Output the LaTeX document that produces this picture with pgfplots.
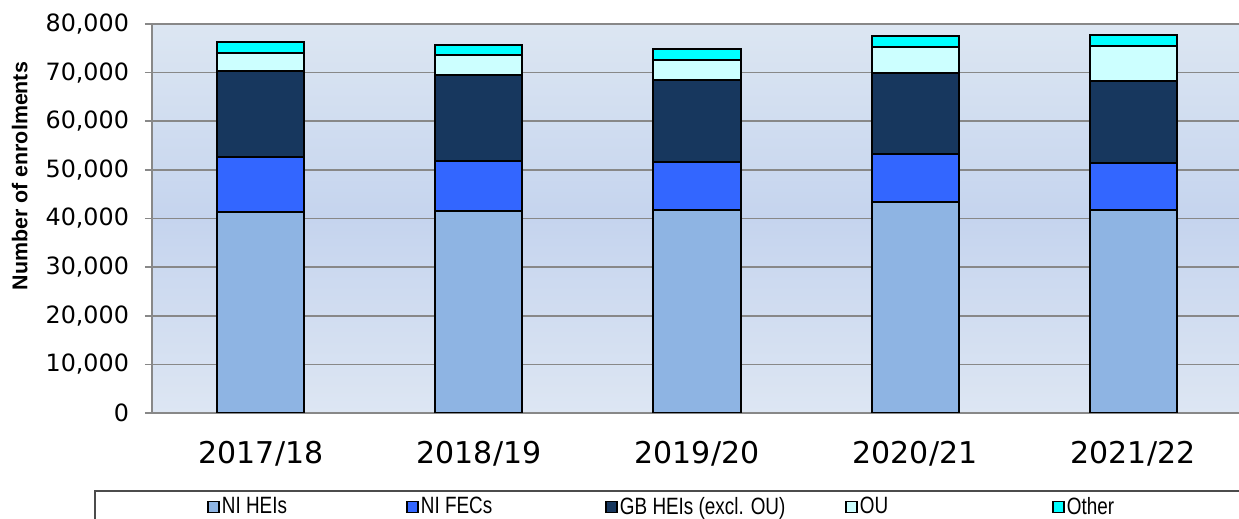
\documentclass[border=0pt]{standalone}
\usepackage{fontspec}
\setmainfont{DejaVu Sans}
\newfontfamily\arialfont{Liberation Sans}
\newfontfamily\narrowfont[FakeStretch=0.8]{Liberation Sans}
\usepackage{pgfplots}
\pgfplotsset{compat=1.18}
\definecolor{niheis}{HTML}{8EB4E3}
\definecolor{nifecs}{HTML}{3366FF}
\definecolor{gbheis}{HTML}{17375E}
\definecolor{ou}{HTML}{CCFFFF}
\definecolor{other}{HTML}{00FFFF}
\definecolor{bgtop}{HTML}{DCE6F2}
\definecolor{bgmid}{HTML}{C5D4EE}
\definecolor{bgbot}{HTML}{DDE6F3}
\definecolor{gridc}{HTML}{888888}
\begin{document}
\begin{tikzpicture}
\useasboundingbox (0,0) rectangle (619.5pt,259.5pt);
\clip (0,0) rectangle (619.5pt,259.5pt);
\draw[black!70, line width=0.6pt] (47.5pt,14pt) rectangle (700pt,-20pt);
\begin{axis}[
  at={(76pt,53pt)}, anchor=south west,
  scale only axis, width=545pt, height=194.5pt,
  ybar stacked, bar width=43.5pt,
  xmin=-0.5, xmax=4.5, ymin=0, ymax=80000,
  xtick={0,1,2,3,4},
  xticklabels={2017/18,2018/19,2019/20,2020/21,2021/22},
  x tick style={draw=none},
  extra x ticks={-0.5,0.5,1.5,2.5,3.5,4.5},
  extra x tick labels={},
  extra x tick style={grid=none, major tick length=5pt, tick style={draw=gridc, line width=0.8pt}},
  ytick={0,10000,...,80000},
  ymajorgrids,
  grid style={gridc, line width=0.8pt},
  tick align=outside,
  major tick length=3.5pt,
  y tick style={gridc, line width=0.8pt},
  axis line style={gridc, line width=0.8pt},
  scaled y ticks=false,
  yticklabel style={font=\fontsize{11.9}{14}\selectfont, xshift=-4.5pt, /pgf/number format/.cd, 1000 sep={,}, assume math mode=true},
  xticklabel style={font=\fontsize{15}{18}\selectfont, yshift=-7pt},
  ylabel={\arialfont\bfseries Number of enrolments},
  ylabel style={font=\fontsize{10.7}{12}\selectfont, at={(axis description cs:-0.1214,0.609)}, anchor=center},
  axis background/.style={top color=bgtop, bottom color=bgbot, middle color=bgmid},
  every axis plot/.append style={draw=black, line width=1pt},
  area legend,
  legend image code/.code={\draw[#1, line width=0.6pt] (0pt,-2.75pt) rectangle (5.5pt,2.75pt);},
  legend columns=5,
  legend style={at={(axis description cs:0,0)}, anchor=west, xshift=27.5pt, yshift=-47pt, draw=none, fill=none, inner sep=0pt, font=\fontsize{11.8}{13}\narrowfont, /tikz/every even column/.append style={column sep=0pt}, nodes={inner sep=1.2pt}},
]
\addplot[fill=niheis] coordinates {(0,41400) (1,41600) (2,41800) (3,43400) (4,41800)};
\addlegendentry{\makebox[91pt][l]{NI HEIs}}
\addplot[fill=nifecs] coordinates {(0,11300) (1,10300) (2,9800) (3,9800) (4,9600)};
\addlegendentry{\makebox[91pt][l]{NI FECs}}
\addplot[fill=gbheis] coordinates {(0,17600) (1,17700) (2,16900) (3,16800) (4,16900)};
\addlegendentry{\makebox[111.5pt][l]{GB HEIs (excl. OU)}}
\addplot[fill=ou] coordinates {(0,3800) (1,4000) (2,4100) (3,5200) (4,7100)};
\addlegendentry{\makebox[95pt][l]{OU}}
\addplot[fill=other] coordinates {(0,2100) (1,2100) (2,2200) (3,2300) (4,2400)};
\addlegendentry{\makebox[50pt][l]{Other}}
\end{axis}
\end{tikzpicture}
\end{document}
